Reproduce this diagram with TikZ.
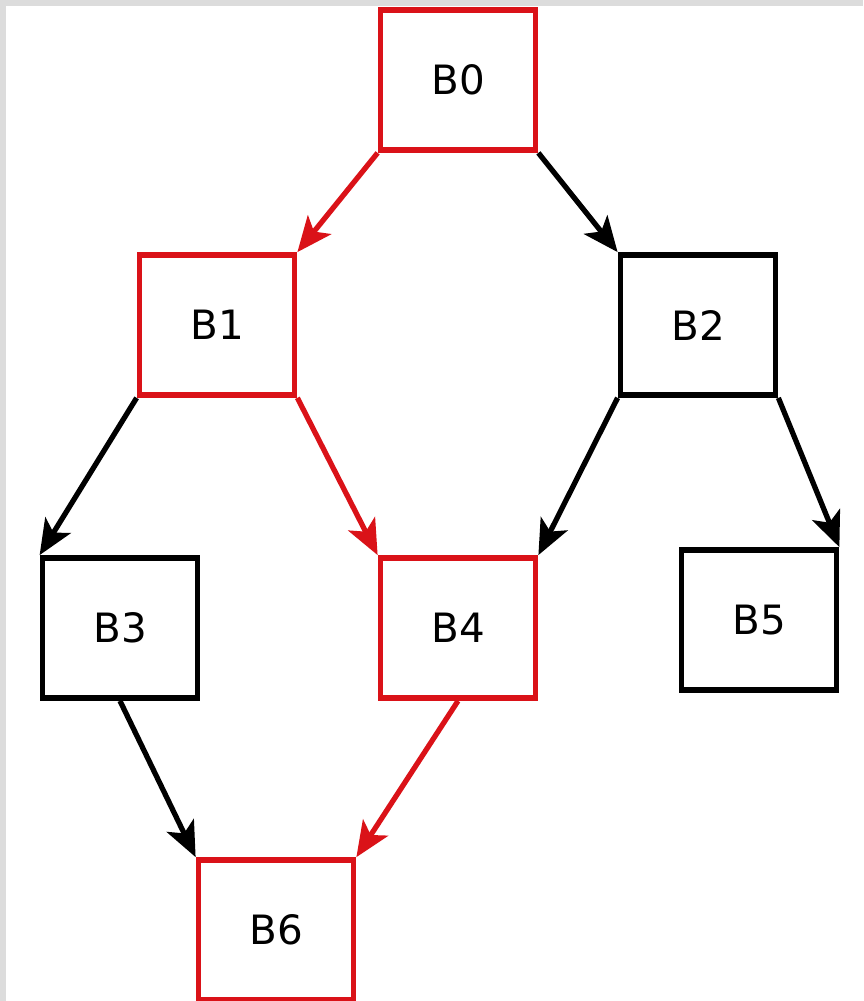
\documentclass[tikz,border=0pt]{standalone}
\usepackage{fontspec}
\setmainfont{DejaVu Sans}
\usetikzlibrary{arrows.meta}

\definecolor{pathred}{RGB}{218,18,24}
\definecolor{framegray}{RGB}{220,220,220}

\begin{document}
\begin{tikzpicture}[
    x=0.02cm, y=-0.02cm,
    >={Stealth[length=20pt,width=17pt,inset=5pt]},
    line join=miter,
    font=\fontsize{23}{27}\selectfont,
    block/.style={draw, line width=3.3pt, minimum width=3.1cm,
        minimum height=2.8cm, inner sep=0pt},
    onpath/.style={draw=pathred},
    edge/.style={->, line width=3pt},
    pathedge/.style={edge, pathred}
]

% ======================================
% 画布与灰色边框
% ======================================
\fill[framegray] (0,0) rectangle (863,1001);
\fill[white] (6,6) rectangle (863,1001);
\useasboundingbox (0,0) rectangle (863,1001);

% ======================================
% 基本块
% ======================================
\node[block, onpath] (b0) at (458,80)  {B0};
\node[block, onpath] (b1) at (217,325) {B1};
\node[block]         (b2) at (698,325) {B2};
\node[block]         (b3) at (120,628) {B3};
\node[block, onpath] (b4) at (458,628) {B4};
\node[block]         (b5) at (759,620) {B5};
\node[block, onpath] (b6) at (276,930) {B6};

% ======================================
% 控制流边（红色为所选路径）
% ======================================
\draw[pathedge] (b0.south west) -- (b1.north east);
\draw[edge]     (b0.south east) -- (b2.north west);
\draw[edge]     (b1.south west) -- (b3.north west);
\draw[pathedge] (b1.south east) -- (b4.north west);
\draw[edge]     (b2.south west) -- (b4.north east);
\draw[edge]     (b2.south east) -- (b5.north east);
\draw[edge]     (b3.south)      -- (b6.north west);
\draw[pathedge] (b4.south)      -- (b6.north east);

\end{tikzpicture}
\end{document}
